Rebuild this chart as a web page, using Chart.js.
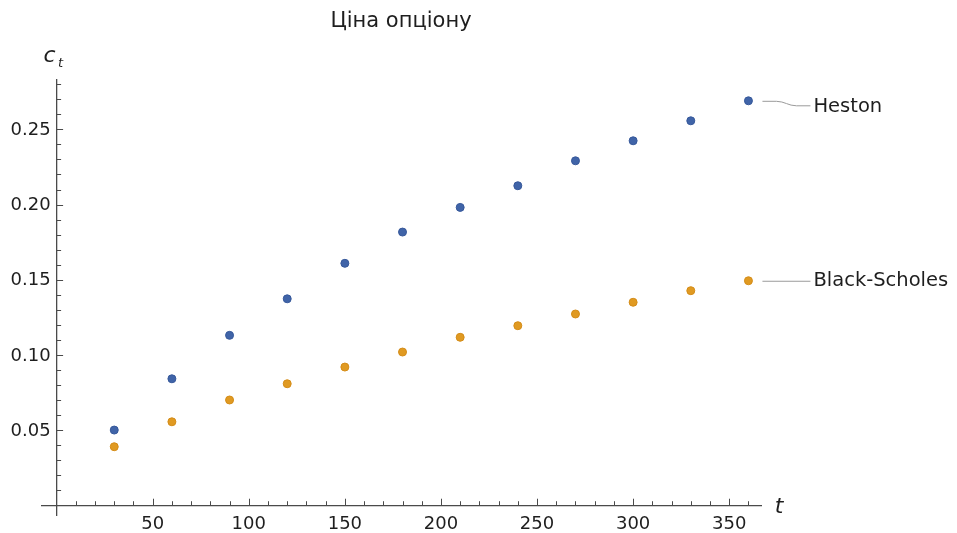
<!DOCTYPE html>
<html>
<head>
<meta charset="utf-8">
<script src="https://cdn.jsdelivr.net/npm/chart.js@4"></script>
<style>
html,body{margin:0;padding:0;background:#ffffff;}
#wrap{width:957px;height:533px;position:relative;}
</style>
</head>
<body>
<div id="wrap"><canvas id="c" width="957" height="533"></canvas></div>
<script>
// ---- data ----
const tValues = [30, 60, 90, 120, 150, 180, 210, 240, 270, 300, 330, 360];
const hestonValues = [0.0500, 0.0841, 0.1130, 0.1373, 0.1609, 0.1817, 0.1981, 0.2125, 0.2291, 0.2424, 0.2557, 0.2690];
const blackScholesValues = [0.0389, 0.0555, 0.0700, 0.0808, 0.0919, 0.1019, 0.1117, 0.1194, 0.1272, 0.1350, 0.1427, 0.1493];
const xTickValues = [50, 100, 150, 200, 250, 300, 350];
const xTickLabels = ['50', '100', '150', '200', '250', '300', '350'];
const yTickValues = [0.05, 0.10, 0.15, 0.20, 0.25];
const yTickLabels = ['0.05', '0.10', '0.15', '0.20', '0.25'];
const seriesNames = ['Heston', 'Black-Scholes'];
const titleText = 'Ціна опціону';
const xAxisName = 't';
const yAxisName = 'c';
const yAxisSub = 't';

// ---- styles ----
const FONT = '"DejaVu Sans", "Liberation Sans", Arial, sans-serif';
const AXIS_COLOR = '#4a4a4a';
const TEXT_COLOR = '#1e1e1e';
const BLUE = '#4064a8';
const ORANGE = '#e09a22';

function toPoints(xs, ys) { return xs.map((t, i) => ({ x: t, y: ys[i] })); }

const decor = {
  id: 'decor',
  afterDraw(chart) {
    const { ctx } = chart;
    const xs = chart.scales.x, ys = chart.scales.y;
    const x0 = xs.getPixelForValue(0);
    const y0 = ys.getPixelForValue(0);
    ctx.save();
    // tick marks (inside)
    ctx.strokeStyle = AXIS_COLOR;
    ctx.lineWidth = 1;
    ctx.beginPath();
    for (let v = 10; v <= xs.max; v += 10) {
      const px = Math.round(xs.getPixelForValue(v)) + 0.5;
      const len = (v % 50 === 0) ? 6.5 : 4;
      ctx.moveTo(px, y0); ctx.lineTo(px, y0 - len);
    }
    for (let k = 1; k / 100 <= ys.max; k++) {
      const py = Math.round(ys.getPixelForValue(k / 100)) + 0.5;
      const len = (k % 5 === 0) ? 6.5 : 4.5;
      ctx.moveTo(x0, py); ctx.lineTo(x0 + len, py);
    }
    ctx.stroke();

    // tick labels
    ctx.fillStyle = TEXT_COLOR;
    ctx.font = '18px ' + FONT;
    ctx.textAlign = 'center';
    ctx.textBaseline = 'middle';
    xTickValues.forEach((v, i) => {
      ctx.fillText(xTickLabels[i], xs.getPixelForValue(v), y0 + 19);
    });
    ctx.textAlign = 'right';
    yTickValues.forEach((v, i) => {
      ctx.fillText(yTickLabels[i], x0 - 6, ys.getPixelForValue(v) + 1);
    });

    // title
    ctx.textAlign = 'center';
    ctx.font = '21px ' + FONT;
    ctx.fillText(titleText, 401, 22);

    // axis names
    ctx.textAlign = 'left';
    ctx.textBaseline = 'alphabetic';
    ctx.font = 'italic 22px ' + FONT;
    ctx.fillText(yAxisName, x0 - 13, 62);
    ctx.font = 'italic 13px ' + FONT;
    ctx.fillText(yAxisSub, x0 + 1.5, 67);
    ctx.font = 'italic 22px ' + FONT;
    ctx.fillText(xAxisName, xs.right + 13, y0 + 8);

    // series labels with connectors
    const lastIdx = tValues.length - 1;
    const lx = xs.getPixelForValue(tValues[lastIdx]);
    const hy = ys.getPixelForValue(hestonValues[lastIdx]);
    const by = ys.getPixelForValue(blackScholesValues[lastIdx]);
    ctx.strokeStyle = '#9a9a9a';
    ctx.lineWidth = 1;
    ctx.beginPath();
    ctx.moveTo(lx + 14, hy + 0.5);
    ctx.lineTo(lx + 28, hy + 0.5);
    ctx.bezierCurveTo(lx + 36, hy + 0.5, lx + 40, hy + 5, lx + 48, hy + 5);
    ctx.lineTo(lx + 62, hy + 5);
    ctx.moveTo(lx + 14, by + 0.5);
    ctx.lineTo(lx + 62, by + 0.5);
    ctx.stroke();

    ctx.fillStyle = TEXT_COLOR;
    ctx.font = '19.5px ' + FONT;
    ctx.textAlign = 'left';
    ctx.textBaseline = 'middle';
    ctx.fillText(seriesNames[0], lx + 65, hy + 6);
    ctx.fillText(seriesNames[1], lx + 65, by + 0.5);
    ctx.restore();
  }
};

new Chart(document.getElementById('c'), {
  type: 'scatter',
  data: {
    datasets: [
      {
        label: seriesNames[0],
        data: toPoints(tValues, hestonValues),
        backgroundColor: BLUE,
        borderColor: '#36589a',
        borderWidth: 1,
        pointRadius: 4,
        showLine: false
      },
      {
        label: seriesNames[1],
        data: toPoints(tValues, blackScholesValues),
        backgroundColor: ORANGE,
        borderColor: '#d48c18',
        borderWidth: 1,
        pointRadius: 4,
        showLine: false
      }
    ]
  },
  options: {
    responsive: false,
    animation: false,
    events: [],
    layout: { padding: { left: 41.7, right: 195.3, top: 79.3, bottom: 18 } },
    plugins: { legend: { display: false }, tooltip: { enabled: false }, title: { display: false } },
    scales: {
      x: {
        type: 'linear',
        min: -7.75,
        max: 366.9,
        position: { y: 0 },
        grid: { display: false, drawTicks: false },
        border: { display: true, color: AXIS_COLOR, width: 1.3 },
        ticks: { display: false }
      },
      y: {
        type: 'linear',
        min: -0.0065,
        max: 0.2833,
        position: { x: 0 },
        grid: { display: false, drawTicks: false },
        border: { display: true, color: AXIS_COLOR, width: 1.3 },
        ticks: { display: false }
      }
    }
  },
  plugins: [decor]
});
</script>
</body>
</html>
